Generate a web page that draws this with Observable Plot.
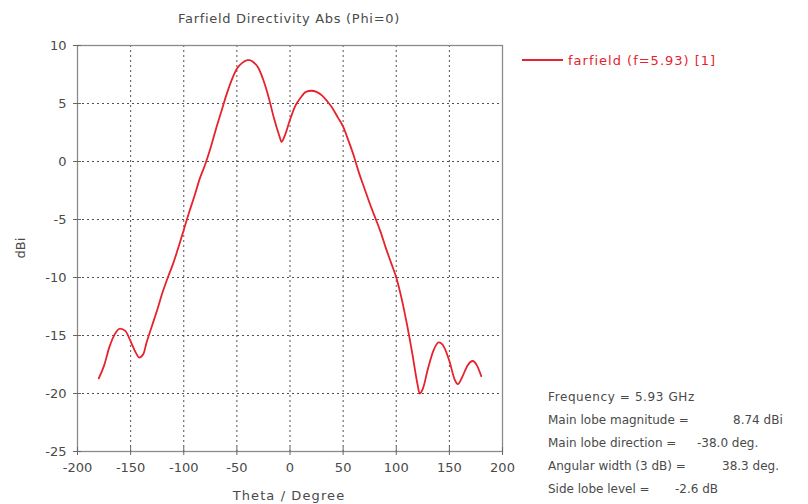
<!DOCTYPE html>
<html>
<head>
<meta charset="utf-8">
<script src="https://cdn.jsdelivr.net/npm/d3@7"></script>
<script src="https://cdn.jsdelivr.net/npm/@observablehq/plot@0.6"></script>
<style>
  html, body { margin: 0; padding: 0; background: #fff; }
  #chart svg { display: block; }
</style>
</head>
<body>
<div id="chart"></div>
<script>
// Farfield directivity cut at Phi = 0, frequency 5.93 GHz
const theta = [-180, -175, -170, -165, -160, -155, -150, -145, -142, -138, -135, -130, -125, -120,
  -115, -110, -105, -100, -95, -90, -85, -80, -75, -70, -65, -60, -55, -50, -45, -40, -38, -35,
  -30, -25, -20, -15, -10, -8, -5, 0, 5, 10, 15, 20, 25, 30, 35, 40, 45, 50, 55, 60, 65, 70, 75,
  80, 85, 90, 95, 100, 105, 110, 115, 120, 122, 125, 130, 135, 140, 145, 150, 155, 158, 162, 167,
  172, 176, 180];
const directivity = [-18.7, -17.6, -16.0, -14.9, -14.4, -14.6, -15.5, -16.5, -16.9, -16.6, -15.6,
  -14.2, -12.8, -11.3, -10.0, -8.8, -7.4, -5.9, -4.4, -3.0, -1.5, -0.3, 1.1, 2.7, 4.2, 5.7, 7.0,
  8.0, 8.5, 8.74, 8.74, 8.6, 8.1, 7.0, 5.5, 3.7, 2.2, 1.7, 2.2, 3.6, 4.8, 5.5, 6.0, 6.1, 6.0, 5.7,
  5.2, 4.6, 3.8, 3.0, 1.8, 0.5, -1.0, -2.3, -3.6, -4.8, -6.0, -7.4, -8.7, -10.0, -11.8, -14.0,
  -16.5, -19.2, -20.0, -19.6, -17.8, -16.3, -15.6, -16.0, -17.2, -18.8, -19.2, -18.6, -17.6,
  -17.2, -17.6, -18.5];

const xTicks = [-200, -150, -100, -50, 0, 50, 100, 150, 200];
const yTicks = [-25, -20, -15, -10, -5, 0, 5, 10];

const titleText = "Farfield Directivity Abs (Phi=0)";
const xLabel = "Theta / Degree";
const yLabel = "dBi";
const seriesName = "farfield (f=5.93) [1]";
const infoLabels = ["Frequency = 5.93 GHz", "Main lobe magnitude =", "Main lobe direction =",
  "Angular width (3 dB) =", "Side lobe level ="];
const infoValues = ["", "8.74 dBi", "-38.0 deg.", "38.3 deg.", "-2.6 dB"];

const points = theta.map((t, i) => ({theta: t, dbi: directivity[i]}));

const curveColor = "#e6222c";
const textColor = "#4a4a4a";
const gridStyle = {stroke: "#333", strokeOpacity: 0.85, strokeDasharray: "2,3"};

const chart = Plot.plot({
  width: 808,
  height: 504,
  marginLeft: 77,
  marginRight: 306,
  marginTop: 45,
  marginBottom: 53,
  style: {fontFamily: "DejaVu Sans, sans-serif", fontSize: "13px", color: textColor, background: "#fff"},
  x: {domain: [-200, 200]},
  y: {domain: [-25, 10]},
  marks: [
    Plot.gridX(xTicks.slice(1, -1), gridStyle),
    Plot.gridY(yTicks.slice(1, -1), gridStyle),
    Plot.frame({stroke: "#8a8a8a", strokeWidth: 1.3}),
    // short ticks straddling the bottom and left edges
    Plot.axisX(xTicks, {tickSize: 8, dy: -4, tickFormat: () => "", label: null, stroke: "#666"}),
    Plot.axisY(yTicks, {tickSize: 8, dx: 4, tickFormat: () => "", label: null, stroke: "#666"}),
    // tick labels
    Plot.axisX(xTicks, {tickSize: 0, tickPadding: 11, tickFormat: d => String(d), label: null, fill: textColor}),
    Plot.axisY(yTicks, {tickSize: 0, tickPadding: 11, tickFormat: d => String(d), label: null, fill: textColor}),
    Plot.line(points, {x: "theta", y: "dbi", stroke: curveColor, strokeWidth: 1.8, curve: "monotone-x"})
  ]
});

document.getElementById("chart").appendChild(chart);

// Title, axis labels, legend and the far-field summary block
const svg = d3.select(chart);
const font = "DejaVu Sans, sans-serif";

svg.append("text").attr("x", 289).attr("y", 23).attr("text-anchor", "middle")
  .attr("font-family", font).attr("font-size", 13).attr("letter-spacing", 0.7)
  .attr("fill", textColor).text(titleText);

svg.append("text").attr("x", 289).attr("y", 500).attr("text-anchor", "middle")
  .attr("font-family", font).attr("font-size", 13).attr("letter-spacing", 1.1)
  .attr("fill", textColor).text(xLabel);

svg.append("text").attr("transform", "translate(25,248) rotate(-90)").attr("text-anchor", "middle")
  .attr("font-family", font).attr("font-size", 13).attr("fill", textColor).text(yLabel);

svg.append("line").attr("x1", 522).attr("x2", 563).attr("y1", 60).attr("y2", 60)
  .attr("stroke", curveColor).attr("stroke-width", 2);
svg.append("text").attr("x", 568).attr("y", 65).attr("text-anchor", "start")
  .attr("font-family", font).attr("font-size", 13).attr("letter-spacing", 1)
  .attr("fill", curveColor).text(seriesName);

const valueX = [null, 733, 697, 722, 675];
infoLabels.forEach((label, i) => {
  const y = 401 + i * 23;
  svg.append("text").attr("x", 548).attr("y", y).attr("text-anchor", "start")
    .attr("font-family", font).attr("font-size", 12).attr("letter-spacing", i === 0 ? 0.6 : 0)
    .attr("fill", textColor).text(label);
  if (infoValues[i]) {
    svg.append("text").attr("x", valueX[i]).attr("y", y).attr("text-anchor", "start")
      .attr("font-family", font).attr("font-size", 12).attr("fill", textColor).text(infoValues[i]);
  }
});
</script>
</body>
</html>
